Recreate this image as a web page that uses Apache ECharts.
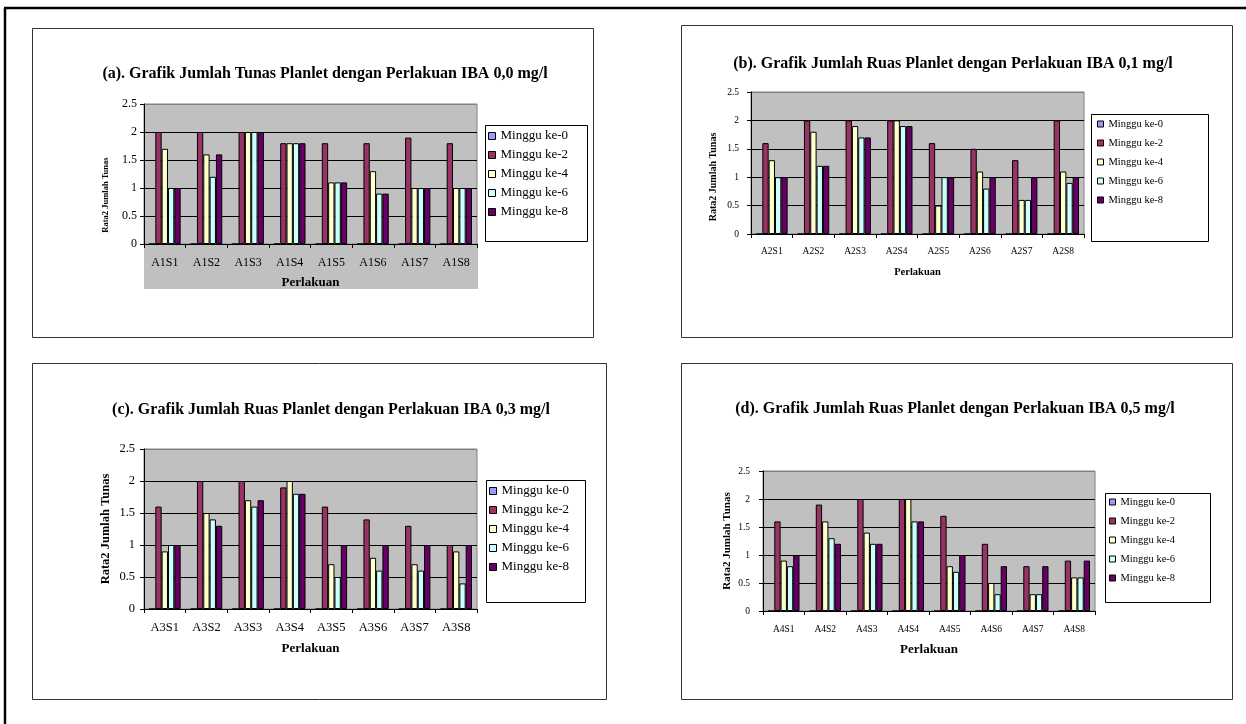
<!DOCTYPE html>
<html>
<head>
<meta charset="utf-8">
<script src="https://cdn.jsdelivr.net/npm/echarts@6/dist/echarts.min.js"></script>
<style>
html,body{margin:0;padding:0;background:#fff;}
#c{width:1246px;height:724px;}
</style>
</head>
<body>
<div id="c"></div>
<script>
// ---- data ----
const weekNames = ['Minggu ke-0', 'Minggu ke-2', 'Minggu ke-4', 'Minggu ke-6', 'Minggu ke-8'];
const weekColors = ['#9999FF', '#993366', '#FFFFCC', '#CCFFFF', '#660066'];

const titleA = '(a). Grafik Jumlah Tunas Planlet dengan Perlakuan IBA 0,0 mg/l';
const titleB = '(b). Grafik Jumlah Ruas Planlet dengan Perlakuan IBA 0,1 mg/l';
const titleC = '(c). Grafik Jumlah Ruas Planlet dengan Perlakuan IBA 0,3 mg/l';
const titleD = '(d). Grafik Jumlah Ruas Planlet dengan Perlakuan IBA 0,5 mg/l';
const xName = 'Perlakuan';
const yName = 'Rata2 Jumlah Tunas';

const catsA = ['A1S1', 'A1S2', 'A1S3', 'A1S4', 'A1S5', 'A1S6', 'A1S7', 'A1S8'];
const catsB = ['A2S1', 'A2S2', 'A2S3', 'A2S4', 'A2S5', 'A2S6', 'A2S7', 'A2S8'];
const catsC = ['A3S1', 'A3S2', 'A3S3', 'A3S4', 'A3S5', 'A3S6', 'A3S7', 'A3S8'];
const catsD = ['A4S1', 'A4S2', 'A4S3', 'A4S4', 'A4S5', 'A4S6', 'A4S7', 'A4S8'];

// chart (a)
const a_w0 = [0, 0, 0, 0, 0, 0, 0, 0];
const a_w2 = [2.0, 2.0, 2.0, 1.8, 1.8, 1.8, 1.9, 1.8];
const a_w4 = [1.7, 1.6, 2.0, 1.8, 1.1, 1.3, 1.0, 1.0];
const a_w6 = [1.0, 1.2, 2.0, 1.8, 1.1, 0.9, 1.0, 1.0];
const a_w8 = [1.0, 1.6, 2.0, 1.8, 1.1, 0.9, 1.0, 1.0];
// chart (b)
const b_w0 = [0, 0, 0, 0, 0, 0, 0, 0];
const b_w2 = [1.6, 2.0, 2.0, 2.0, 1.6, 1.5, 1.3, 2.0];
const b_w4 = [1.3, 1.8, 1.9, 2.0, 0.5, 1.1, 0.6, 1.1];
const b_w6 = [1.0, 1.2, 1.7, 1.9, 1.0, 0.8, 0.6, 0.9];
const b_w8 = [1.0, 1.2, 1.7, 1.9, 1.0, 1.0, 1.0, 1.0];
// chart (c)
const c_w0 = [0, 0, 0, 0, 0, 0, 0, 0];
const c_w2 = [1.6, 2.0, 2.0, 1.9, 1.6, 1.4, 1.3, 1.0];
const c_w4 = [0.9, 1.5, 1.7, 2.0, 0.7, 0.8, 0.7, 0.9];
const c_w6 = [1.0, 1.4, 1.6, 1.8, 0.5, 0.6, 0.6, 0.4];
const c_w8 = [1.0, 1.3, 1.7, 1.8, 1.0, 1.0, 1.0, 1.0];
// chart (d)
const d_w0 = [0, 0, 0, 0, 0, 0, 0, 0];
const d_w2 = [1.6, 1.9, 2.0, 2.0, 1.7, 1.2, 0.8, 0.9];
const d_w4 = [0.9, 1.6, 1.4, 2.0, 0.8, 0.5, 0.3, 0.6];
const d_w6 = [0.8, 1.3, 1.2, 1.6, 0.7, 0.3, 0.3, 0.6];
const d_w8 = [1.0, 1.2, 1.2, 1.6, 1.0, 0.8, 0.8, 0.9];

// ---- layout ----
const FONT = '"Liberation Serif", "Times New Roman", serif';
const panels = [
  { cats: catsA, data: [a_w0, a_w2, a_w4, a_w6, a_w8], title: titleA,
    box: [32, 28, 561, 309], grid: [144, 104, 333, 140], titleXY: [320, 61], tsize: 16,
    lab: 12, labMargin: 7, xlabMargin: 13, xname: 13, xgap: 32.5,
    yname: 8.5, ygap: 33.5, yshift: 42,
    legBox: [485, 125, 102, 116], legLT: [488, 129.5], legFont: 13, legIcon: 7, legGap: 6, legLH: 13 },
  { cats: catsB, data: [b_w0, b_w2, b_w4, b_w6, b_w8], title: titleB,
    box: [681, 25, 551, 312], grid: [751, 92, 333, 142], titleXY: [948, 51], tsize: 16,
    lab: 9.5, labMargin: 12, xlabMargin: 12.5, xname: 10.5, xgap: 33,
    yname: 10, ygap: 33, yshift: 28,
    legBox: [1091, 114, 117, 127], legLT: [1097, 118], legFont: 10.5, legIcon: 6, legGap: 7, legLH: 12 },
  { cats: catsC, data: [c_w0, c_w2, c_w4, c_w6, c_w8], title: titleC,
    box: [32, 363, 574, 336], grid: [144, 449, 333, 160], titleXY: [326, 397], tsize: 16,
    lab: 12.5, labMargin: 9, xlabMargin: 12.5, xname: 13, xgap: 33.5,
    yname: 12.5, ygap: 32, yshift: 0,
    legBox: [486, 480, 99, 122], legLT: [489, 484.5], legFont: 13, legIcon: 7, legGap: 6, legLH: 13 },
  { cats: catsD, data: [d_w0, d_w2, d_w4, d_w6, d_w8], title: titleD,
    box: [681, 363, 551, 336], grid: [763, 471, 332, 140], titleXY: [950, 396], tsize: 16,
    lab: 9.5, labMargin: 13, xlabMargin: 13, xname: 13, xgap: 32.5,
    yname: 11, ygap: 30.5, yshift: 0,
    legBox: [1105, 493, 105, 109], legLT: [1109, 496], legFont: 10.5, legIcon: 6, legGap: 7, legLH: 12 }
];

const option = {
  animation: false,
  backgroundColor: '#fff',
  textStyle: { fontFamily: FONT },
  title: [], grid: [], xAxis: [], yAxis: [], legend: [], series: [],
  graphic: []
};

// outer page frame
option.graphic.push({ type: 'line', z: -5, shape: { x1: 4, y1: 8, x2: 1246, y2: 8 }, style: { stroke: '#000', lineWidth: 2.5 } });
option.graphic.push({ type: 'line', z: -5, shape: { x1: 5, y1: 8, x2: 5, y2: 724 }, style: { stroke: '#000', lineWidth: 2.5 } });

panels.forEach((p, i) => {
  option.graphic.push({ type: 'rect', z: -5, shape: { x: p.box[0] + 0.5, y: p.box[1] + 0.5, width: p.box[2], height: p.box[3] },
    style: { fill: '#fff', stroke: '#333', lineWidth: 1 } });
  option.graphic.push({ type: 'rect', z: -4, shape: { x: p.legBox[0] + 0.5, y: p.legBox[1] + 0.5, width: p.legBox[2], height: p.legBox[3] },
    style: { fill: '#fff', stroke: '#000', lineWidth: 1 } });
  if (i === 0) {
    // chart (a): plot-area grey continues under the category labels
    option.graphic.push({ type: 'rect', z: -4, shape: { x: p.grid[0], y: p.grid[1] + p.grid[3], width: p.grid[2] + 1, height: 45 },
      style: { fill: '#C0C0C0' } });
  }

  option.title.push({
    text: p.title, left: p.titleXY[0], top: p.titleXY[1], textAlign: 'center',
    textStyle: { fontFamily: FONT, fontSize: p.tsize, fontWeight: 'bold', color: '#000' }
  });
  option.grid.push({
    left: p.grid[0], top: p.grid[1], width: p.grid[2], height: p.grid[3],
    show: true, backgroundColor: '#C0C0C0', borderColor: '#808080', borderWidth: 1, containLabel: false
  });
  option.xAxis.push({
    type: 'category', gridIndex: i, data: p.cats,
    name: xName, nameLocation: 'middle', nameGap: p.xgap,
    nameTextStyle: { fontFamily: FONT, fontSize: p.xname, fontWeight: 'bold', color: '#000' },
    axisLine: { lineStyle: { color: '#000', width: 1 } },
    axisTick: { show: true, length: 4, lineStyle: { color: '#000' } },
    axisLabel: { fontFamily: FONT, fontSize: p.lab, color: '#000', margin: p.xlabMargin, interval: 0 },
    splitLine: { show: false }
  });
  option.yAxis.push({
    type: 'value', gridIndex: i, min: 0, max: 2.5, interval: 0.5,
    name: yName, nameLocation: 'middle', nameGap: p.ygap, nameRotate: 90,
    nameTextStyle: { fontFamily: FONT, fontSize: p.yname, fontWeight: 'bold', color: '#000',
      padding: [0, p.yshift, 0, 0] },
    axisLine: { show: true, lineStyle: { color: '#000', width: 1 } },
    axisTick: { show: true, length: 4, lineStyle: { color: '#000' } },
    axisLabel: { fontFamily: FONT, fontSize: p.lab, color: '#000', margin: p.labMargin },
    splitLine: { show: true, lineStyle: { color: ['#000', '#000', '#000', '#000', '#000', '#808080'], width: 1 } }
  });
  option.legend.push({
    orient: 'vertical', left: p.legLT[0], top: p.legLT[1], padding: 0,
    itemWidth: p.legIcon, itemHeight: p.legIcon, itemGap: p.legGap, selectedMode: false,
    icon: 'rect',
    itemStyle: { borderColor: '#000', borderWidth: 1 },
    textStyle: { fontFamily: FONT, fontSize: p.legFont, color: '#000', lineHeight: p.legLH },
    data: weekNames
  });
  p.data.forEach((vals, j) => {
    option.series.push({
      type: 'bar', name: weekNames[j], xAxisIndex: i, yAxisIndex: i,
      data: vals, barGap: '0%', barCategoryGap: '24%',
      itemStyle: { color: weekColors[j], borderColor: '#000', borderWidth: 1 },
      emphasis: { disabled: true }
    });
  });
});

const chart = echarts.init(document.getElementById('c'), null, { renderer: 'canvas' });
chart.setOption(option);
</script>
</body>
</html>
